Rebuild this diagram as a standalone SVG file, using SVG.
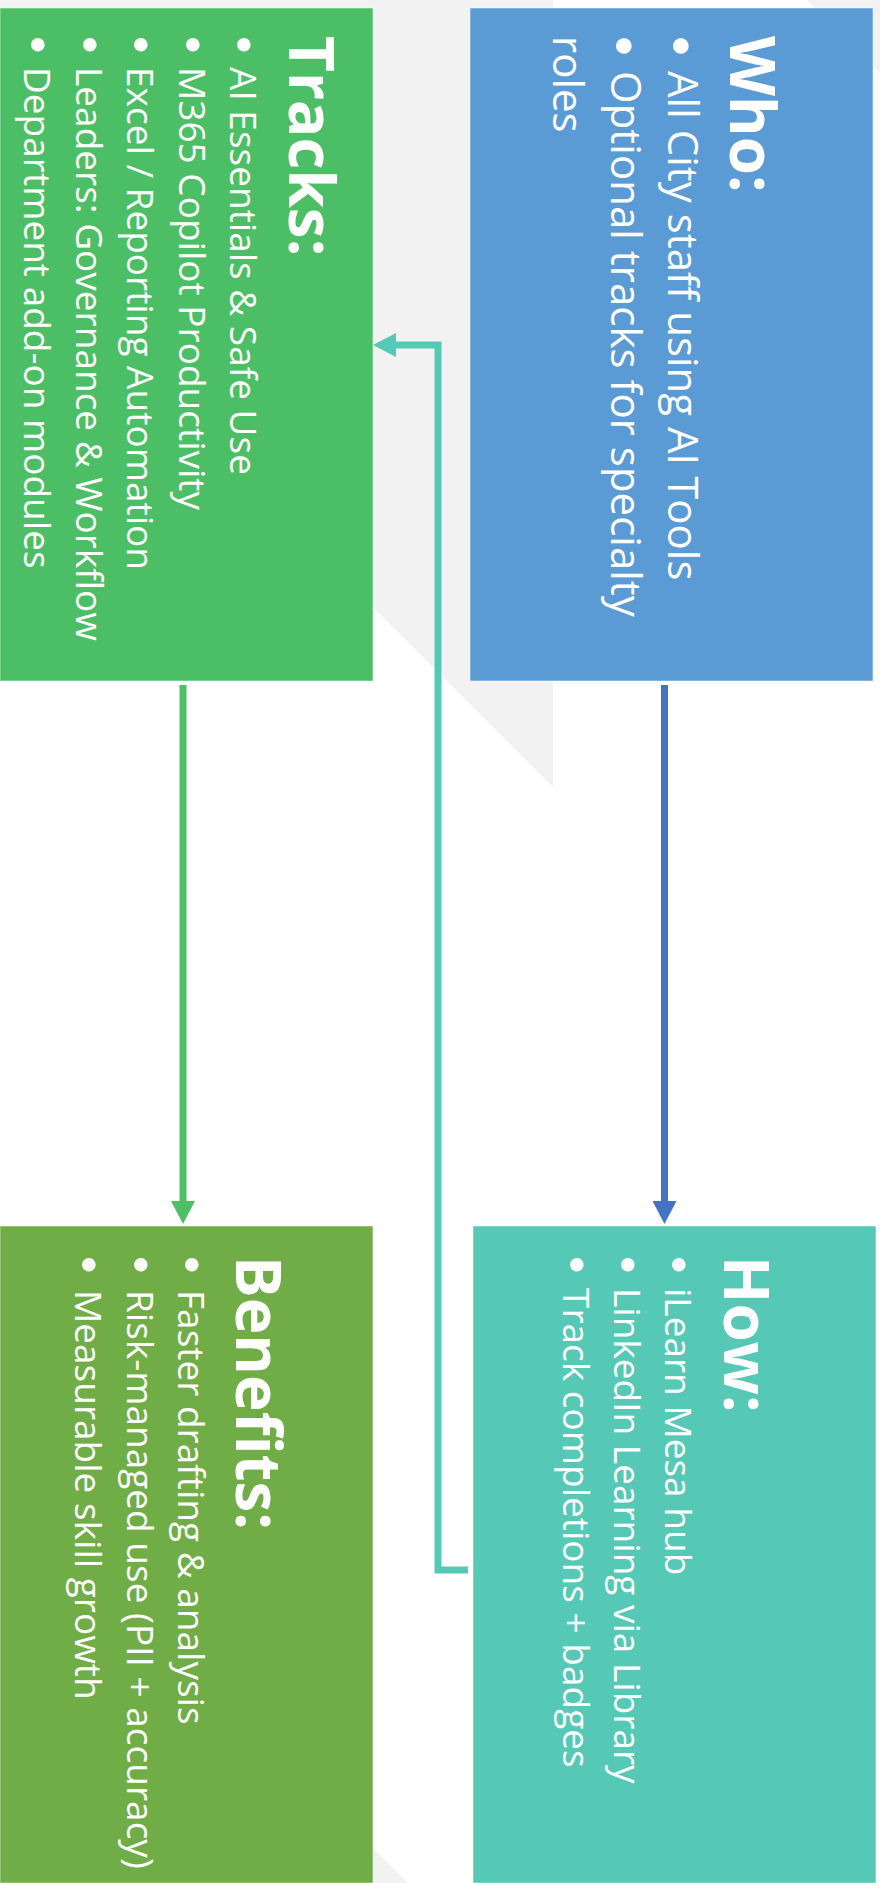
<svg xmlns="http://www.w3.org/2000/svg" width="880" height="1883" viewBox="0 0 880 1883">
<style>
text{font-family:"Open Sans","Noto Sans","DejaVu Sans",sans-serif;fill:#ffffff}
.title{font-weight:700;font-size:62px}
.b42{font-size:42px}
.b37{font-size:37px}
.bul{font-family:"Liberation Sans","Arial",sans-serif}
.bulL{font-size:57px}
.bulS{font-size:50px}
.box{stroke:#ffffff;stroke-opacity:0.5;stroke-width:1}
.conn{fill:none;stroke-width:7;stroke-linejoin:miter}
.bg{fill:#F2F2F2}
</style>
<defs>
<marker id="ahGreen" markerUnits="userSpaceOnUse" markerWidth="24" markerHeight="24" refX="0" refY="12" orient="auto"><path d="M0,0 L23,12 L0,24 z" fill="#4CBF66"/></marker>
<marker id="ahBlue" markerUnits="userSpaceOnUse" markerWidth="24" markerHeight="24" refX="0" refY="12" orient="auto"><path d="M0,0 L23,12 L0,24 z" fill="#4472C4"/></marker>
<marker id="ahTeal" markerUnits="userSpaceOnUse" markerWidth="24" markerHeight="24" refX="0" refY="12" orient="auto"><path d="M0,0 L23,12 L0,24 z" fill="#55C9B5"/></marker>
</defs>
<rect x="0" y="0" width="880" height="1883" fill="#ffffff"/>
<g id="background">
<polygon class="bg" points="0,0 553,0 553,787 0,234"/>
<polygon class="bg" points="807,0 880,0 880,73"/>
<polygon class="bg" points="0,1475 408,1883 0,1883"/>
</g>
<g id="connectors">
<path class="conn" d="M183,685 V1201" stroke="#4CBF66" marker-end="url(#ahGreen)"/>
<path class="conn" d="M664.5,685 V1201" stroke="#4472C4" marker-end="url(#ahBlue)"/>
<path class="conn" d="M468,1570 H438 V345 H396" stroke="#55C9B5" marker-end="url(#ahTeal)"/>
</g>
<g id="who">
<rect class="box" x="470" y="8" width="403" height="673" fill="#5B9BD5"/>
<g transform="rotate(90)">
<text class="title" x="36" y="-730">Who:</text>
<text class="bul bulL" x="36" y="-662.4">•</text><text class="b42" x="71" y="-668">All City staff using AI Tools</text>
<text class="bul bulL" x="36" y="-605.4">•</text><text class="b42" x="71" y="-611">Optional tracks for specialty</text>
<text class="b42" x="36" y="-553">roles</text>
</g>
</g>
<g id="tracks">
<rect class="box" x="0" y="8" width="373" height="673" fill="#4CBF66"/>
<g transform="rotate(90)">
<text class="title" x="36" y="-289">Tracks:</text>
<text class="bul bulS" x="36" y="-227">•</text><text class="b37" x="67" y="-230">AI Essentials &amp; Safe Use</text>
<text class="bul bulS" x="36" y="-175.5">•</text><text class="b37" x="67" y="-178.5">M365 Copilot Productivity</text>
<text class="bul bulS" x="36" y="-124">•</text><text class="b37" x="67" y="-127">Excel / Reporting Automation</text>
<text class="bul bulS" x="36" y="-72.5">•</text><text class="b37" x="67" y="-75.5">Leaders: Governance &amp; Workflow</text>
<text class="bul bulS" x="36" y="-21">•</text><text class="b37" x="67" y="-24">Department add-on modules</text>
</g>
</g>
<g id="benefits">
<rect class="box" x="0" y="1226" width="373" height="657" fill="#70AD47"/>
<g transform="rotate(90)">
<text class="title" x="1256" y="-236">Benefits:</text>
<text class="bul bulS" x="1256" y="-174.5">•</text><text class="b37" x="1290" y="-177.5">Faster drafting &amp; analysis</text>
<text class="bul bulS" x="1256" y="-124">•</text><text class="b37" x="1290" y="-127">Risk-managed use (PII + accuracy)</text>
<text class="bul bulS" x="1256" y="-72">•</text><text class="b37" x="1290" y="-75">Measurable skill growth</text>
</g>
</g>
<g id="how">
<rect class="box" x="473" y="1226" width="403" height="657" fill="#55C9B5"/>
<g transform="rotate(90)">
<text class="title" x="1256" y="-724">How:</text>
<text class="bul bulS" x="1256" y="-662">•</text><text class="b37" x="1288" y="-665">iLearn Mesa hub</text>
<text class="bul bulS" x="1256" y="-611">•</text><text class="b37" x="1288" y="-614">LinkedIn Learning via Library</text>
<text class="bul bulS" x="1256" y="-560">•</text><text class="b37" x="1288" y="-563">Track completions + badges</text>
</g>
</g>
</svg>
